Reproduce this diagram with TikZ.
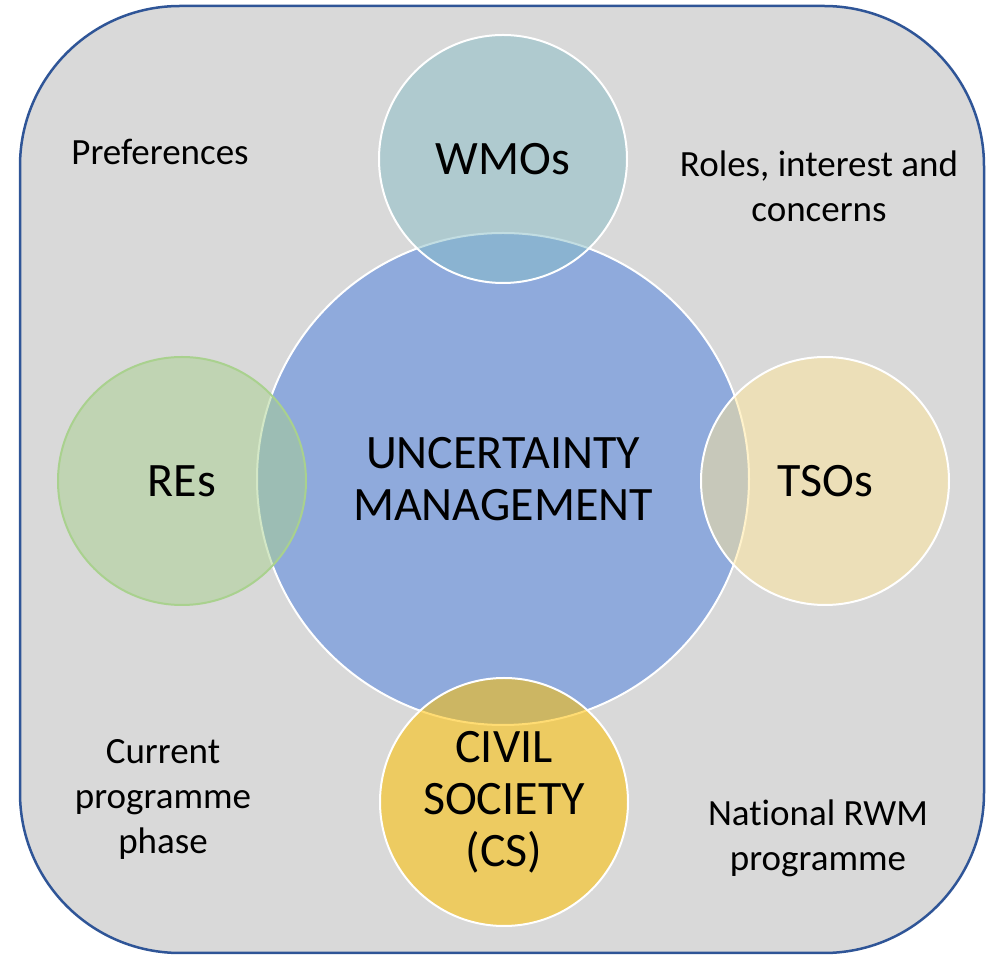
\documentclass[tikz,border=0pt]{standalone}
\usepackage{fontspec}
\setmainfont{Carlito}[Ligatures=NoCommon]

\definecolor{panel}{HTML}{D9D9D9}
\definecolor{frame}{HTML}{2F5597}
\definecolor{core}{HTML}{8FAADC}
\definecolor{wmo}{RGB}{135,189,199}
\definecolor{re}{HTML}{A9D18E}
\definecolor{tso}{HTML}{FFE699}
\definecolor{cs}{HTML}{FFC000}

\begin{document}
\begin{tikzpicture}[x=0.5pt,y=-0.5pt]
  \tikzstyle{actor}=[circle,draw=white,line width=1pt,minimum size=124pt,inner sep=0pt,
                     align=center,font=\fontsize{24}{26}\selectfont]
  \tikzstyle{note}=[align=center,font=\fontsize{18.5}{22.5}\selectfont]

  \useasboundingbox (0,0) rectangle (987,956);
  \draw[frame,fill=panel,line width=1.25pt,rounded corners=80pt] (20,6) rectangle (984,953);

  \node[actor,fill=core,minimum size=246pt] (UM) at (503,479) {UNCERTAINTY\\MANAGEMENT};

  \foreach \name/\x/\y/\col/\bd/\op/\text in {WMO/503/159/wmo/white/0.5/WMOs,
                                              RE/182/481/re/re/0.5/REs,
                                              TSO/825/481/tso/white/0.5/TSOs,
                                              CS/504/802/cs/white/0.55/{CIVIL\\SOCIETY\\(CS)}}
    \node[actor,fill=\col,draw=\bd,fill opacity=\op,text opacity=1] (\name) at (\x,\y) {\text};

  \node[note] (pref) at (160,152) {Preferences};
  \node[note] (roles) at (819,186) {Roles, interest and\\concerns};
  \node[note] (phase) at (163,799) {Current\\programme\\phase};
  \node[note] (natl) at (818,838) {National RWM\\programme};
\end{tikzpicture}
\end{document}
